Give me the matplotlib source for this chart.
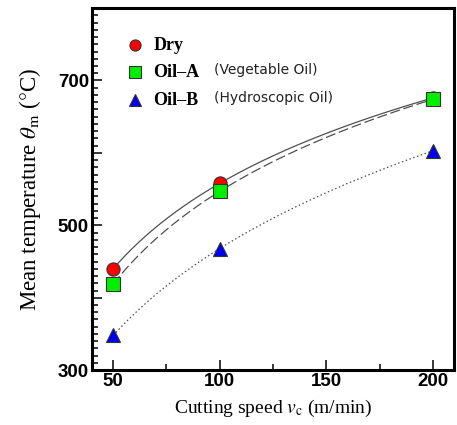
import numpy as np
import matplotlib
matplotlib.use("Agg")
import matplotlib.pyplot as plt
from matplotlib.ticker import MultipleLocator, FixedLocator

plt.rcParams["mathtext.fontset"] = "stix"

# Cutting speed (m/min) and mean temperature (deg C) for each condition
speed = [50, 100, 200]
temp_dry = [440, 558, 676]
temp_oil_a = [419, 547, 674]
temp_oil_b = [348, 468, 603]

labels = ["Dry", "Oil\u2013A", "Oil\u2013B"]
notes = ["", "(Vegetable Oil)", "(Hydroscopic Oil)"]


def trend(x, y):
    """Smooth curve through the points (quadratic in ln v)."""
    coef = np.polyfit(np.log(x), y, 2)
    xs = np.linspace(min(x), max(x), 200)
    return xs, np.polyval(coef, np.log(xs))


def main():
    fig = plt.figure(figsize=(4.57, 4.25), dpi=100)
    ax = fig.add_axes([0.201, 0.129, 0.793, 0.852])

    line_col = "#505050"
    styles = [
        (temp_dry, "-", "o", "#ff0000", 9.5),
        (temp_oil_a, (0, (8, 3)), "s", "#00ee00", 9.5),
        (temp_oil_b, (0, (1.2, 2)), "^", "#0000ee", 10.5),
    ]

    # fitted curves first, markers on top
    for temps, ls, _, _, _ in styles:
        xs, ys = trend(speed, temps)
        ax.plot(xs, ys, color=line_col, ls=ls, lw=0.9, zorder=2)
    for temps, _, mk, fc, ms in styles:
        ax.plot(speed, temps, ls="none", marker=mk, ms=ms, mfc=fc,
                mec="#333333", mew=0.8, zorder=3)

    # legend drawn by hand: marker, bold name, plain note
    rows_y = [0.898, 0.823, 0.745]
    for (temps, _, mk, fc, ms), lab, note, yy in zip(styles, labels,
                                                     notes, rows_y):
        ax.plot([0.118], [yy], transform=ax.transAxes, ls="none",
                marker=mk, ms=ms - 1.5, mfc=fc, mec="#333333", mew=0.8,
                clip_on=False)
        ax.text(0.170, yy, lab, transform=ax.transAxes, va="center",
                ha="left", fontsize=13, fontweight="bold",
                family="Liberation Serif")
        if note:
            ax.text(0.338, yy + 0.006, note, transform=ax.transAxes,
                    va="center", ha="left", fontsize=10,
                    family="DejaVu Sans", color="#222222")

    ax.set_xlim(40, 210)
    ax.set_ylim(300, 800)

    ax.xaxis.set_major_locator(FixedLocator([50, 100, 150, 200]))
    ax.xaxis.set_minor_locator(FixedLocator([75, 125, 175]))
    ax.yaxis.set_major_locator(MultipleLocator(100))
    ax.yaxis.set_minor_locator(MultipleLocator(10))
    ax.yaxis.set_major_formatter(
        plt.FuncFormatter(lambda v, p: f"{v:.0f}" if v in (300, 500, 700)
                          else ""))

    ax.tick_params(which="both", direction="in", top=False, right=False,
                   width=1.1, color="black")
    ax.tick_params(which="major", length=7, labelsize=13.5, pad=2)
    ax.tick_params(which="minor", length=4)
    for lab in ax.get_xticklabels() + ax.get_yticklabels():
        lab.set_fontweight("bold")
        lab.set_family("Liberation Sans")

    for side in ["left", "bottom", "top", "right"]:
        ax.spines[side].set_linewidth(2.2)

    ax.set_xlabel(r"Cutting speed $v_{\rm c}$ (m/min)", fontsize=14,
                  family="Liberation Serif", labelpad=6)
    ax.set_ylabel(r"Mean temperature $\theta_{\rm m}$ ($\degree$C)",
                  fontsize=16.5, family="Liberation Serif", labelpad=11)

    fig.savefig("out.png", dpi=100)


if __name__ == "__main__":
    main()
